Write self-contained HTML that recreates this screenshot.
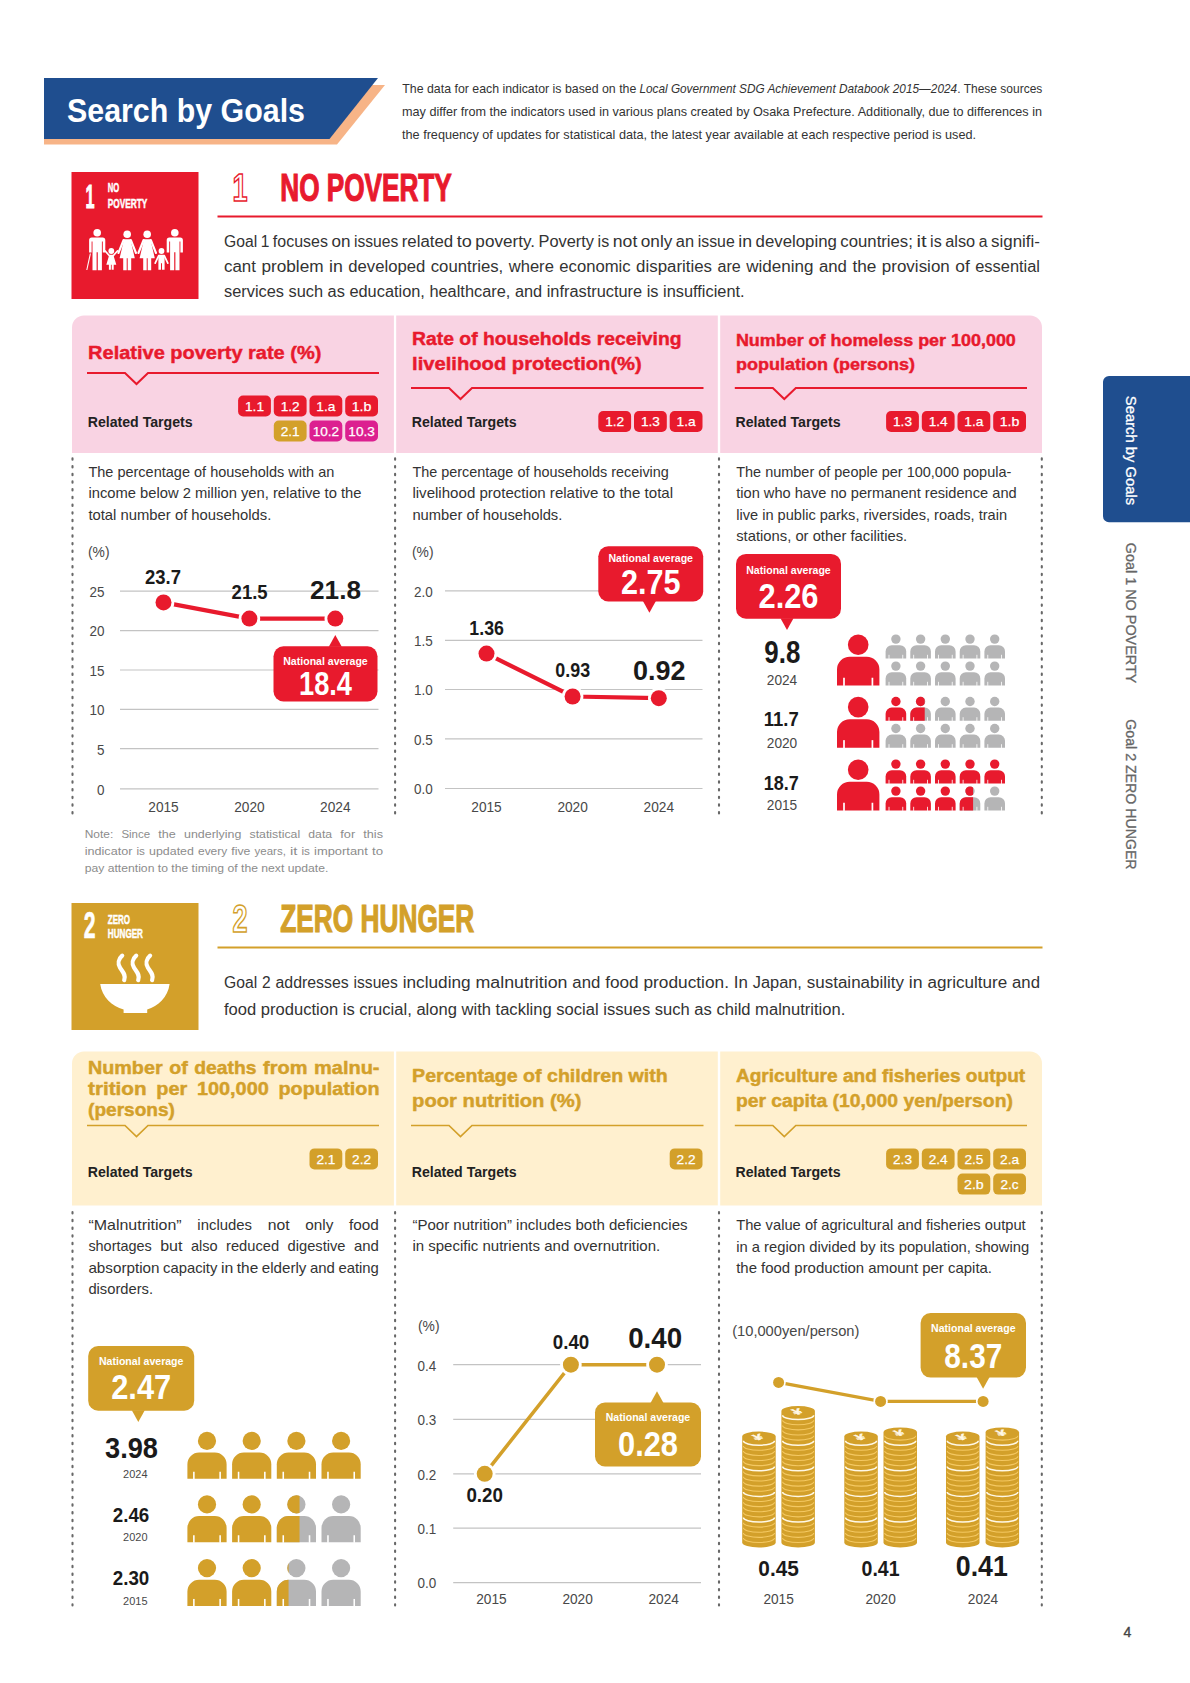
<!DOCTYPE html>
<html lang="en"><head><meta charset="utf-8"><title>Search by Goals</title>
<style>
html,body{margin:0;padding:0;background:#fff}
svg{display:block}
text{font-family:"Liberation Sans",sans-serif;white-space:pre}
</style></head><body>
<svg width="1190" height="1683" viewBox="0 0 1190 1683">
<rect width="1190" height="1683" fill="#fff"/>
<polygon points="44,85 385,85 337,144.5 44,144.5" fill="#f7b487"/>
<polygon points="44,78 378,78 329.5,139 44,139" fill="#1f4e8f"/>
<text x="67" y="122" font-size="33" fill="#fff" font-weight="700" textLength="238" lengthAdjust="spacingAndGlyphs">Search by Goals</text>
<text x="402.3" y="92.6" font-size="12.1" fill="#333" textLength="234" lengthAdjust="spacingAndGlyphs">The data for each indicator is based on the</text>
<text x="639.4" y="92.6" font-size="12.1" fill="#333" textLength="317.7" lengthAdjust="spacingAndGlyphs" font-style="italic">Local Government SDG Achievement Databook 2015—2024</text>
<text x="957.3" y="92.6" font-size="12.1" fill="#333" textLength="85" lengthAdjust="spacingAndGlyphs">. These sources</text>
<text x="402" y="116" font-size="12.1" fill="#333" textLength="640" lengthAdjust="spacingAndGlyphs">may differ from the indicators used in various plans created by Osaka Prefecture. Additionally, due to differences in</text>
<text x="402" y="139" font-size="12.1" fill="#333" textLength="574" lengthAdjust="spacingAndGlyphs">the frequency of updates for statistical data, the latest year available at each respective period is used.</text>
<rect x="71.5" y="172" width="127" height="127" fill="#e81a2d"/>
<text x="85.5" y="208" font-size="34" fill="#fff" font-weight="700" textLength="9" lengthAdjust="spacingAndGlyphs" stroke="#fff" stroke-width="1.1">1</text>
<text x="107.8" y="192.2" font-size="12.6" fill="#fff" font-weight="700" textLength="11.5" lengthAdjust="spacingAndGlyphs" stroke="#fff" stroke-width="0.5">NO</text>
<text x="107.8" y="207.5" font-size="12.6" fill="#fff" font-weight="700" textLength="39.5" lengthAdjust="spacingAndGlyphs" stroke="#fff" stroke-width="0.5">POVERTY</text>
<g fill="#fff"><circle cx="97.2" cy="232.8" r="3.8"/><path d="M91.8,237.6 h10.8 a2.7,2.7 0 0 1 2.7,2.7 v12.3 h-2.5 v-11 h-0.9 v28.7 h-4.1 v-18 h-1.2 v18 h-4.1 v-28.7 h-0.9 v11 h-2.5 v-12.3 a2.7,2.7 0 0 1 2.7,-2.7z"/><circle cx="174.8" cy="232.8" r="3.8"/><path d="M169.4,237.6 h10.8 a2.7,2.7 0 0 1 2.7,2.7 v12.3 h-2.5 v-11 h-0.9 v28.7 h-4.1 v-18 h-1.2 v18 h-4.1 v-28.7 h-0.9 v11 h-2.5 v-12.3 a2.7,2.7 0 0 1 2.7,-2.7z"/><circle cx="127.2" cy="234.20000000000002" r="3.8"/><path d="M124.0,239.20000000000002 h6.4 l4.4,19 h-3.6 v12 h-3.5 v-12 h-1 v12 h-3.5 v-12 h-3.6z"/><path d="M123.60000000000001,240.0 l-5.2,13" stroke="#fff" stroke-width="2.1" stroke-linecap="round" fill="none"/><path d="M130.8,240.0 l5.2,13" stroke="#fff" stroke-width="2.1" stroke-linecap="round" fill="none"/><circle cx="147.2" cy="234.20000000000002" r="3.8"/><path d="M144.0,239.20000000000002 h6.4 l4.4,19 h-3.6 v12 h-3.5 v-12 h-1 v12 h-3.5 v-12 h-3.6z"/><path d="M143.6,240.0 l-5.2,13" stroke="#fff" stroke-width="2.1" stroke-linecap="round" fill="none"/><path d="M150.79999999999998,240.0 l5.2,13" stroke="#fff" stroke-width="2.1" stroke-linecap="round" fill="none"/><path d="M90.4,253.5 L86.8,270" stroke="#fff" stroke-width="1.1" fill="none"/><circle cx="111.3" cy="251" r="2.9"/><path d="M109.3,254.8 h4 l3,9.9 h-2.6 v5 h-2 v-5 h-0.8 v5 h-2 v-5 h-2.6z"/><path d="M109.6,256 l-4.6,-5.2 M113,256 l4.6,-5.2" stroke="#fff" stroke-width="1.7" stroke-linecap="round" fill="none"/><circle cx="161.5" cy="251" r="2.9"/><path d="M158.4,254.8 h6.2 v14.9 h-2.6 v-6.4 h-1 v6.4 h-2.6z"/><path d="M158.6,255.8 l-3.4,7.4 M164.4,255.8 l3.4,7.4" stroke="#fff" stroke-width="1.7" stroke-linecap="round" fill="none"/></g>
<text x="232.5" y="200.5" font-size="38" font-weight="700" fill="#fff" stroke="#e81a2d" stroke-width="1.6" textLength="15" lengthAdjust="spacingAndGlyphs">1</text>
<text x="280.3" y="200.5" font-size="38" fill="#e81a2d" font-weight="700" textLength="171.5" lengthAdjust="spacingAndGlyphs" stroke="#e81a2d" stroke-width="1.2">NO POVERTY</text>
<rect x="217.5" y="215.5" width="825" height="2" fill="#e81a2d"/>
<text x="224" y="247" font-size="15.6" fill="#333" textLength="33.16" lengthAdjust="spacingAndGlyphs">Goal</text>
<text x="260.69" y="247" font-size="15.6" fill="#333" textLength="8.66" lengthAdjust="spacingAndGlyphs">1</text>
<text x="272.88" y="247" font-size="15.6" fill="#333" textLength="55.02" lengthAdjust="spacingAndGlyphs">focuses</text>
<text x="331.43" y="247" font-size="15.6" fill="#333" textLength="18.97" lengthAdjust="spacingAndGlyphs">on</text>
<text x="353.92" y="247" font-size="15.6" fill="#333" textLength="44.3" lengthAdjust="spacingAndGlyphs">issues</text>
<text x="401.75" y="247" font-size="15.6" fill="#333" textLength="51.46" lengthAdjust="spacingAndGlyphs">related</text>
<text x="456.75" y="247" font-size="15.6" fill="#333" textLength="15.1" lengthAdjust="spacingAndGlyphs">to</text>
<text x="475.38" y="247" font-size="15.6" fill="#333" textLength="59.58" lengthAdjust="spacingAndGlyphs">poverty.</text>
<text x="538.48" y="247" font-size="15.6" fill="#333" textLength="55.61" lengthAdjust="spacingAndGlyphs">Poverty</text>
<text x="597.62" y="247" font-size="15.6" fill="#333" textLength="11.59" lengthAdjust="spacingAndGlyphs">is</text>
<text x="612.74" y="247" font-size="15.6" fill="#333" textLength="24.56" lengthAdjust="spacingAndGlyphs">not</text>
<text x="640.82" y="247" font-size="15.6" fill="#333" textLength="31.53" lengthAdjust="spacingAndGlyphs">only</text>
<text x="675.88" y="247" font-size="15.6" fill="#333" textLength="18.3" lengthAdjust="spacingAndGlyphs">an</text>
<text x="697.71" y="247" font-size="15.6" fill="#333" textLength="37" lengthAdjust="spacingAndGlyphs">issue</text>
<text x="738.24" y="247" font-size="15.6" fill="#333" textLength="13.81" lengthAdjust="spacingAndGlyphs">in</text>
<text x="755.57" y="247" font-size="15.6" fill="#333" textLength="81.26" lengthAdjust="spacingAndGlyphs">developing</text>
<text x="840.36" y="247" font-size="15.6" fill="#333" textLength="72.52" lengthAdjust="spacingAndGlyphs">countries;</text>
<text x="916.41" y="247" font-size="15.6" fill="#333" textLength="10.17" lengthAdjust="spacingAndGlyphs">it</text>
<text x="930.11" y="247" font-size="15.6" fill="#333" textLength="11.59" lengthAdjust="spacingAndGlyphs">is</text>
<text x="945.23" y="247" font-size="15.6" fill="#333" textLength="29.97" lengthAdjust="spacingAndGlyphs">also</text>
<text x="978.72" y="247" font-size="15.6" fill="#333" textLength="8.78" lengthAdjust="spacingAndGlyphs">a</text>
<text x="991.03" y="247" font-size="15.6" fill="#333" textLength="48.97" lengthAdjust="spacingAndGlyphs">signifi-</text>
<text x="224" y="272" font-size="15.6" fill="#333" textLength="31.96" lengthAdjust="spacingAndGlyphs">cant</text>
<text x="261.42" y="272" font-size="15.6" fill="#333" textLength="62.16" lengthAdjust="spacingAndGlyphs">problem</text>
<text x="329.05" y="272" font-size="15.6" fill="#333" textLength="13.81" lengthAdjust="spacingAndGlyphs">in</text>
<text x="348.31" y="272" font-size="15.6" fill="#333" textLength="76.97" lengthAdjust="spacingAndGlyphs">developed</text>
<text x="430.74" y="272" font-size="15.6" fill="#333" textLength="72.52" lengthAdjust="spacingAndGlyphs">countries,</text>
<text x="508.72" y="272" font-size="15.6" fill="#333" textLength="45.15" lengthAdjust="spacingAndGlyphs">where</text>
<text x="559.33" y="272" font-size="15.6" fill="#333" textLength="71.34" lengthAdjust="spacingAndGlyphs">economic</text>
<text x="636.13" y="272" font-size="15.6" fill="#333" textLength="75.92" lengthAdjust="spacingAndGlyphs">disparities</text>
<text x="717.51" y="272" font-size="15.6" fill="#333" textLength="23.3" lengthAdjust="spacingAndGlyphs">are</text>
<text x="746.27" y="272" font-size="15.6" fill="#333" textLength="67.24" lengthAdjust="spacingAndGlyphs">widening</text>
<text x="818.97" y="272" font-size="15.6" fill="#333" textLength="27.97" lengthAdjust="spacingAndGlyphs">and</text>
<text x="852.4" y="272" font-size="15.6" fill="#333" textLength="23.99" lengthAdjust="spacingAndGlyphs">the</text>
<text x="881.85" y="272" font-size="15.6" fill="#333" textLength="67.92" lengthAdjust="spacingAndGlyphs">provision</text>
<text x="955.23" y="272" font-size="15.6" fill="#333" textLength="14.52" lengthAdjust="spacingAndGlyphs">of</text>
<text x="975.21" y="272" font-size="15.6" fill="#333" textLength="64.79" lengthAdjust="spacingAndGlyphs">essential</text>
<text x="224" y="297" font-size="15.6" fill="#333" textLength="520.56" lengthAdjust="spacingAndGlyphs">services such as education, healthcare, and infrastructure is insufficient.</text>
<rect x="71.5" y="903" width="127" height="127" fill="#d3a02a"/>
<text x="83.7" y="938.4" font-size="36" fill="#fff" font-weight="700" textLength="11.8" lengthAdjust="spacingAndGlyphs" stroke="#fff" stroke-width="0.7">2</text>
<text x="107.8" y="923.5" font-size="12.8" fill="#fff" font-weight="700" textLength="22.3" lengthAdjust="spacingAndGlyphs" stroke="#fff" stroke-width="0.5">ZERO</text>
<text x="107.8" y="938.2" font-size="12.8" fill="#fff" font-weight="700" textLength="35.2" lengthAdjust="spacingAndGlyphs" stroke="#fff" stroke-width="0.5">HUNGER</text>
<path d="M100.2,984 H169.6 C168,997 158,1006.5 147.2,1009.5 V1013 H123.6 V1009.5 C112,1006.5 102,997 100.2,984z" fill="#fff"/>
<path d="M122.2,955.6 c-3.7,3.1 -4.7,8.1 -2.2,12.1 c2.5,4 6.3,7.3 4.2,12.4" stroke="#fff" stroke-width="4.2" stroke-linecap="round" fill="none"/>
<path d="M136.20000000000002,955.6 c-3.7,3.1 -4.7,8.1 -2.2,12.1 c2.5,4 6.3,7.3 4.2,12.4" stroke="#fff" stroke-width="4.2" stroke-linecap="round" fill="none"/>
<path d="M150.1,955.6 c-3.7,3.1 -4.7,8.1 -2.2,12.1 c2.5,4 6.3,7.3 4.2,12.4" stroke="#fff" stroke-width="4.2" stroke-linecap="round" fill="none"/>
<text x="232.5" y="931.5" font-size="38" font-weight="700" fill="#fff" stroke="#d3a02a" stroke-width="1.6" textLength="15" lengthAdjust="spacingAndGlyphs">2</text>
<text x="280.3" y="931.5" font-size="38" fill="#d3a02a" font-weight="700" textLength="194" lengthAdjust="spacingAndGlyphs" stroke="#d3a02a" stroke-width="1.2">ZERO HUNGER</text>
<rect x="217.5" y="946.5" width="825" height="2" fill="#d3a02a"/>
<text x="224" y="987.9" font-size="15.6" fill="#333" textLength="33.16" lengthAdjust="spacingAndGlyphs">Goal</text>
<text x="262.02" y="987.9" font-size="15.6" fill="#333" textLength="8.66" lengthAdjust="spacingAndGlyphs">2</text>
<text x="275.52" y="987.9" font-size="15.6" fill="#333" textLength="73.19" lengthAdjust="spacingAndGlyphs">addresses</text>
<text x="353.57" y="987.9" font-size="15.6" fill="#333" textLength="44.3" lengthAdjust="spacingAndGlyphs">issues</text>
<text x="402.72" y="987.9" font-size="15.6" fill="#333" textLength="67.94" lengthAdjust="spacingAndGlyphs">including</text>
<text x="475.51" y="987.9" font-size="15.6" fill="#333" textLength="92.01" lengthAdjust="spacingAndGlyphs">malnutrition</text>
<text x="572.37" y="987.9" font-size="15.6" fill="#333" textLength="27.97" lengthAdjust="spacingAndGlyphs">and</text>
<text x="605.19" y="987.9" font-size="15.6" fill="#333" textLength="33.48" lengthAdjust="spacingAndGlyphs">food</text>
<text x="643.52" y="987.9" font-size="15.6" fill="#333" textLength="85.41" lengthAdjust="spacingAndGlyphs">production.</text>
<text x="733.78" y="987.9" font-size="15.6" fill="#333" textLength="14.09" lengthAdjust="spacingAndGlyphs">In</text>
<text x="752.72" y="987.9" font-size="15.6" fill="#333" textLength="49.19" lengthAdjust="spacingAndGlyphs">Japan,</text>
<text x="806.75" y="987.9" font-size="15.6" fill="#333" textLength="97.26" lengthAdjust="spacingAndGlyphs">sustainability</text>
<text x="908.87" y="987.9" font-size="15.6" fill="#333" textLength="13.81" lengthAdjust="spacingAndGlyphs">in</text>
<text x="927.53" y="987.9" font-size="15.6" fill="#333" textLength="79.65" lengthAdjust="spacingAndGlyphs">agriculture</text>
<text x="1012.03" y="987.9" font-size="15.6" fill="#333" textLength="27.97" lengthAdjust="spacingAndGlyphs">and</text>
<text x="224" y="1014.5" font-size="15.6" fill="#333" textLength="621.33" lengthAdjust="spacingAndGlyphs">food production is crucial, along with tackling social issues such as child malnutrition.</text>
<path d="M72,453 V327.5 a12,12 0 0 1 12,-12 H393.9 V453z" fill="#f9d3e3"/>
<rect x="396.2" y="315.5" width="321.6" height="137.5" fill="#f9d3e3"/>
<path d="M720.2,453 V315.5 H1030 a12,12 0 0 1 12,12 V453z" fill="#f9d3e3"/>
<text x="88.1" y="358.5" font-size="19.1" fill="#e81a2d" font-weight="700" textLength="233.29" lengthAdjust="spacingAndGlyphs" stroke="#e81a2d" stroke-width="0.45">Relative poverty rate (%)</text>
<path d="M87,373 H125 l11.5,11 l11.5,-11 H379" fill="none" stroke="#e81a2d" stroke-width="2" stroke-linejoin="miter"/>
<text x="412.1" y="345.3" font-size="19.1" fill="#e81a2d" font-weight="700" textLength="269.45" lengthAdjust="spacingAndGlyphs" stroke="#e81a2d" stroke-width="0.45">Rate of households receiving</text>
<text x="412.1" y="370.1" font-size="19.1" fill="#e81a2d" font-weight="700" textLength="229.68" lengthAdjust="spacingAndGlyphs" stroke="#e81a2d" stroke-width="0.45">livelihood protection(%)</text>
<path d="M411,388 H449 l11.5,11 l11.5,-11 H703.5" fill="none" stroke="#e81a2d" stroke-width="2" stroke-linejoin="miter"/>
<text x="735.9" y="345.5" font-size="17.35" fill="#e81a2d" font-weight="700" textLength="279.95" lengthAdjust="spacingAndGlyphs" stroke="#e81a2d" stroke-width="0.45">Number of homeless per 100,000</text>
<text x="735.9" y="370.3" font-size="17.35" fill="#e81a2d" font-weight="700" textLength="179.11" lengthAdjust="spacingAndGlyphs" stroke="#e81a2d" stroke-width="0.45">population (persons)</text>
<path d="M734.8,388 H772.8 l11.5,11 l11.5,-11 H1027" fill="none" stroke="#e81a2d" stroke-width="2" stroke-linejoin="miter"/>
<text x="87.7" y="426.6" font-size="14" fill="#222" font-weight="700" textLength="105" lengthAdjust="spacingAndGlyphs">Related Targets</text>
<text x="411.7" y="426.6" font-size="14" fill="#222" font-weight="700" textLength="105" lengthAdjust="spacingAndGlyphs">Related Targets</text>
<text x="735.5" y="426.6" font-size="14" fill="#222" font-weight="700" textLength="105" lengthAdjust="spacingAndGlyphs">Related Targets</text>
<rect x="238.1" y="395.5" width="32.8" height="21" rx="5" fill="#e81a2d"/>
<text x="245.01" y="410.7" font-size="13.2" fill="#fff" textLength="18.98" lengthAdjust="spacingAndGlyphs" stroke="#fff" stroke-width="0.25">1.1</text>
<rect x="273.8" y="395.5" width="32.8" height="21" rx="5" fill="#e81a2d"/>
<text x="280.71" y="410.7" font-size="13.2" fill="#fff" textLength="18.98" lengthAdjust="spacingAndGlyphs" stroke="#fff" stroke-width="0.25">1.2</text>
<rect x="309.5" y="395.5" width="32.8" height="21" rx="5" fill="#e81a2d"/>
<text x="316.38" y="410.7" font-size="13.2" fill="#fff" textLength="19.05" lengthAdjust="spacingAndGlyphs" stroke="#fff" stroke-width="0.25">1.a</text>
<rect x="345.2" y="395.5" width="32.8" height="21" rx="5" fill="#e81a2d"/>
<text x="351.72" y="410.7" font-size="13.2" fill="#fff" textLength="19.76" lengthAdjust="spacingAndGlyphs" stroke="#fff" stroke-width="0.25">1.b</text>
<rect x="273.8" y="420.5" width="32.8" height="21" rx="5" fill="#d3a02a"/>
<text x="280.71" y="435.7" font-size="13.2" fill="#fff" textLength="18.98" lengthAdjust="spacingAndGlyphs" stroke="#fff" stroke-width="0.25">2.1</text>
<rect x="309.5" y="420.5" width="32.8" height="21" rx="5" fill="#dc2090"/>
<text x="312.65" y="435.7" font-size="13.2" fill="#fff" textLength="26.51" lengthAdjust="spacingAndGlyphs" stroke="#fff" stroke-width="0.25">10.2</text>
<rect x="345.2" y="420.5" width="32.8" height="21" rx="5" fill="#dc2090"/>
<text x="348.35" y="435.7" font-size="13.2" fill="#fff" textLength="26.51" lengthAdjust="spacingAndGlyphs" stroke="#fff" stroke-width="0.25">10.3</text>
<rect x="598.3" y="411" width="32.8" height="21" rx="5" fill="#e81a2d"/>
<text x="605.21" y="426.2" font-size="13.2" fill="#fff" textLength="18.98" lengthAdjust="spacingAndGlyphs" stroke="#fff" stroke-width="0.25">1.2</text>
<rect x="634" y="411" width="32.8" height="21" rx="5" fill="#e81a2d"/>
<text x="640.91" y="426.2" font-size="13.2" fill="#fff" textLength="18.98" lengthAdjust="spacingAndGlyphs" stroke="#fff" stroke-width="0.25">1.3</text>
<rect x="669.7" y="411" width="32.8" height="21" rx="5" fill="#e81a2d"/>
<text x="676.58" y="426.2" font-size="13.2" fill="#fff" textLength="19.05" lengthAdjust="spacingAndGlyphs" stroke="#fff" stroke-width="0.25">1.a</text>
<rect x="886.1" y="411" width="32.8" height="21" rx="5" fill="#e81a2d"/>
<text x="893.01" y="426.2" font-size="13.2" fill="#fff" textLength="18.98" lengthAdjust="spacingAndGlyphs" stroke="#fff" stroke-width="0.25">1.3</text>
<rect x="921.8" y="411" width="32.8" height="21" rx="5" fill="#e81a2d"/>
<text x="928.71" y="426.2" font-size="13.2" fill="#fff" textLength="18.98" lengthAdjust="spacingAndGlyphs" stroke="#fff" stroke-width="0.25">1.4</text>
<rect x="957.5" y="411" width="32.8" height="21" rx="5" fill="#e81a2d"/>
<text x="964.38" y="426.2" font-size="13.2" fill="#fff" textLength="19.05" lengthAdjust="spacingAndGlyphs" stroke="#fff" stroke-width="0.25">1.a</text>
<rect x="993.2" y="411" width="32.8" height="21" rx="5" fill="#e81a2d"/>
<text x="999.72" y="426.2" font-size="13.2" fill="#fff" textLength="19.76" lengthAdjust="spacingAndGlyphs" stroke="#fff" stroke-width="0.25">1.b</text>
<line x1="72.5" y1="458.35" x2="72.5" y2="813.45" stroke="#686868" stroke-width="2.1" stroke-linecap="round" stroke-dasharray="1.4 6.29"/>
<line x1="395.1" y1="458.35" x2="395.1" y2="813.45" stroke="#686868" stroke-width="2.1" stroke-linecap="round" stroke-dasharray="1.4 6.29"/>
<line x1="719.0" y1="458.35" x2="719.0" y2="813.45" stroke="#686868" stroke-width="2.1" stroke-linecap="round" stroke-dasharray="1.4 6.29"/>
<line x1="1041.8" y1="458.35" x2="1041.8" y2="813.45" stroke="#686868" stroke-width="2.1" stroke-linecap="round" stroke-dasharray="1.4 6.29"/>
<text x="88.4" y="476.5" font-size="13.9" fill="#333" textLength="245.92" lengthAdjust="spacingAndGlyphs">The percentage of households with an</text>
<text x="88.4" y="498" font-size="13.9" fill="#333" textLength="273.15" lengthAdjust="spacingAndGlyphs">income below 2 million yen, relative to the</text>
<text x="88.4" y="519.5" font-size="13.9" fill="#333" textLength="182.92" lengthAdjust="spacingAndGlyphs">total number of households.</text>
<text x="412.4" y="476.5" font-size="13.9" fill="#333" textLength="256.45" lengthAdjust="spacingAndGlyphs">The percentage of households receiving</text>
<text x="412.4" y="498" font-size="13.9" fill="#333" textLength="260.71" lengthAdjust="spacingAndGlyphs">livelihood protection relative to the total</text>
<text x="412.4" y="519.5" font-size="13.9" fill="#333" textLength="149.94" lengthAdjust="spacingAndGlyphs">number of households.</text>
<text x="736.2" y="476.5" font-size="13.9" fill="#333" textLength="275.12" lengthAdjust="spacingAndGlyphs">The number of people per 100,000 popula-</text>
<text x="736.2" y="498" font-size="13.9" fill="#333" textLength="280.46" lengthAdjust="spacingAndGlyphs">tion who have no permanent residence and</text>
<text x="736.2" y="519.5" font-size="13.9" fill="#333" textLength="270.89" lengthAdjust="spacingAndGlyphs">live in public parks, riversides, roads, train</text>
<text x="736.2" y="541" font-size="13.9" fill="#333" textLength="170.99" lengthAdjust="spacingAndGlyphs">stations, or other facilities.</text>
<text x="88" y="557" font-size="14.2" fill="#484848" textLength="21.56" lengthAdjust="spacingAndGlyphs">(%)</text>
<line x1="120" y1="591.2" x2="378.5" y2="591.2" stroke="#c3c3c3" stroke-width="1.2"/>
<line x1="120" y1="630.6" x2="378.5" y2="630.6" stroke="#c3c3c3" stroke-width="1.2"/>
<line x1="120" y1="670" x2="378.5" y2="670" stroke="#c3c3c3" stroke-width="1.2"/>
<line x1="120" y1="709.3" x2="378.5" y2="709.3" stroke="#c3c3c3" stroke-width="1.2"/>
<line x1="120" y1="748.7" x2="378.5" y2="748.7" stroke="#c3c3c3" stroke-width="1.2"/>
<line x1="120" y1="788.8" x2="378.5" y2="788.8" stroke="#c3c3c3" stroke-width="1.2"/>
<text x="89.52" y="597" font-size="14.4" fill="#484848" textLength="14.98" lengthAdjust="spacingAndGlyphs">25</text>
<text x="89.52" y="636.4" font-size="14.4" fill="#484848" textLength="14.98" lengthAdjust="spacingAndGlyphs">20</text>
<text x="89.52" y="675.8" font-size="14.4" fill="#484848" textLength="14.98" lengthAdjust="spacingAndGlyphs">15</text>
<text x="89.52" y="715.1" font-size="14.4" fill="#484848" textLength="14.98" lengthAdjust="spacingAndGlyphs">10</text>
<text x="97.01" y="754.5" font-size="14.4" fill="#484848" textLength="7.49" lengthAdjust="spacingAndGlyphs">5</text>
<text x="97.01" y="794.6" font-size="14.4" fill="#484848" textLength="7.49" lengthAdjust="spacingAndGlyphs">0</text>
<path d="M163.5,602.4 L249.4,618.6 L335.3,618.6" fill="none" stroke="#e81a2d" stroke-width="4.2"/>
<circle cx="163.5" cy="602.4" r="8" fill="#e81a2d" stroke="#fff" stroke-width="5.6" paint-order="stroke"/>
<circle cx="249.4" cy="618.6" r="8" fill="#e81a2d" stroke="#fff" stroke-width="5.6" paint-order="stroke"/>
<circle cx="335.3" cy="618.6" r="8" fill="#e81a2d" stroke="#fff" stroke-width="5.6" paint-order="stroke"/>
<text x="148.29" y="811.5" font-size="14.2" fill="#484848" textLength="30.41" lengthAdjust="spacingAndGlyphs">2015</text>
<text x="234.19" y="811.5" font-size="14.2" fill="#484848" textLength="30.41" lengthAdjust="spacingAndGlyphs">2020</text>
<text x="320.09" y="811.5" font-size="14.2" fill="#484848" textLength="30.41" lengthAdjust="spacingAndGlyphs">2024</text>
<text x="145" y="583.5" font-size="19.4" fill="#1a1a1a" font-weight="700" textLength="36" lengthAdjust="spacingAndGlyphs">23.7</text>
<text x="231.6" y="599.3" font-size="19.4" fill="#1a1a1a" font-weight="700" textLength="36" lengthAdjust="spacingAndGlyphs">21.5</text>
<text x="310" y="599" font-size="26.3" fill="#1a1a1a" font-weight="700" textLength="51" lengthAdjust="spacingAndGlyphs">21.8</text>
<rect x="273.5" y="646.3" width="104" height="55.2" rx="10" fill="#e81a2d"/>
<path d="M328.8,646.8 L335.3,635.1 L341.8,646.8z" fill="#e81a2d"/>
<text x="283.25" y="665" font-size="10.6" fill="#fff" font-weight="700" textLength="84.5" lengthAdjust="spacingAndGlyphs">National average</text>
<text x="299" y="695.1" font-size="32.8" fill="#fff" font-weight="700" textLength="53" lengthAdjust="spacingAndGlyphs">18.4</text>
<text x="84.7" y="837.5" font-size="11.4" fill="#8c8c8c" textLength="28.55" lengthAdjust="spacingAndGlyphs">Note:</text>
<text x="121.4" y="837.5" font-size="11.4" fill="#8c8c8c" textLength="28.74" lengthAdjust="spacingAndGlyphs">Since</text>
<text x="158.3" y="837.5" font-size="11.4" fill="#8c8c8c" textLength="17.53" lengthAdjust="spacingAndGlyphs">the</text>
<text x="183.99" y="837.5" font-size="11.4" fill="#8c8c8c" textLength="57.38" lengthAdjust="spacingAndGlyphs">underlying</text>
<text x="249.52" y="837.5" font-size="11.4" fill="#8c8c8c" textLength="50.65" lengthAdjust="spacingAndGlyphs">statistical</text>
<text x="308.33" y="837.5" font-size="11.4" fill="#8c8c8c" textLength="23.76" lengthAdjust="spacingAndGlyphs">data</text>
<text x="340.24" y="837.5" font-size="11.4" fill="#8c8c8c" textLength="14.91" lengthAdjust="spacingAndGlyphs">for</text>
<text x="363.31" y="837.5" font-size="11.4" fill="#8c8c8c" textLength="19.69" lengthAdjust="spacingAndGlyphs">this</text>
<text x="84.7" y="854.6" font-size="11.4" fill="#8c8c8c" textLength="47.69" lengthAdjust="spacingAndGlyphs">indicator</text>
<text x="136.49" y="854.6" font-size="11.4" fill="#8c8c8c" textLength="8.47" lengthAdjust="spacingAndGlyphs">is</text>
<text x="149.07" y="854.6" font-size="11.4" fill="#8c8c8c" textLength="44.81" lengthAdjust="spacingAndGlyphs">updated</text>
<text x="197.99" y="854.6" font-size="11.4" fill="#8c8c8c" textLength="29.27" lengthAdjust="spacingAndGlyphs">every</text>
<text x="231.37" y="854.6" font-size="11.4" fill="#8c8c8c" textLength="19.05" lengthAdjust="spacingAndGlyphs">five</text>
<text x="254.52" y="854.6" font-size="11.4" fill="#8c8c8c" textLength="31.33" lengthAdjust="spacingAndGlyphs">years,</text>
<text x="289.96" y="854.6" font-size="11.4" fill="#8c8c8c" textLength="7.43" lengthAdjust="spacingAndGlyphs">it</text>
<text x="301.5" y="854.6" font-size="11.4" fill="#8c8c8c" textLength="8.47" lengthAdjust="spacingAndGlyphs">is</text>
<text x="314.07" y="854.6" font-size="11.4" fill="#8c8c8c" textLength="53.79" lengthAdjust="spacingAndGlyphs">important</text>
<text x="371.96" y="854.6" font-size="11.4" fill="#8c8c8c" textLength="11.04" lengthAdjust="spacingAndGlyphs">to</text>
<text x="84.7" y="872" font-size="11.4" fill="#8c8c8c" textLength="243.64" lengthAdjust="spacingAndGlyphs">pay attention to the timing of the next update.</text>
<text x="412" y="557" font-size="14.2" fill="#484848" textLength="21.56" lengthAdjust="spacingAndGlyphs">(%)</text>
<line x1="445" y1="590.9" x2="702.5" y2="590.9" stroke="#c3c3c3" stroke-width="1.2"/>
<line x1="445" y1="640.3" x2="702.5" y2="640.3" stroke="#c3c3c3" stroke-width="1.2"/>
<line x1="445" y1="689.5" x2="702.5" y2="689.5" stroke="#c3c3c3" stroke-width="1.2"/>
<line x1="445" y1="738.9" x2="702.5" y2="738.9" stroke="#c3c3c3" stroke-width="1.2"/>
<line x1="445" y1="788.5" x2="702.5" y2="788.5" stroke="#c3c3c3" stroke-width="1.2"/>
<text x="414" y="596.7" font-size="14.4" fill="#484848" textLength="18.74" lengthAdjust="spacingAndGlyphs">2.0</text>
<text x="414" y="646.1" font-size="14.4" fill="#484848" textLength="18.74" lengthAdjust="spacingAndGlyphs">1.5</text>
<text x="414" y="695.3" font-size="14.4" fill="#484848" textLength="18.74" lengthAdjust="spacingAndGlyphs">1.0</text>
<text x="414" y="744.7" font-size="14.4" fill="#484848" textLength="18.74" lengthAdjust="spacingAndGlyphs">0.5</text>
<text x="414" y="794.3" font-size="14.4" fill="#484848" textLength="18.74" lengthAdjust="spacingAndGlyphs">0.0</text>
<path d="M486.5,653.6 L572.6,696.5 L658.8,698.2" fill="none" stroke="#e81a2d" stroke-width="4.2"/>
<circle cx="486.5" cy="653.6" r="8" fill="#e81a2d" stroke="#fff" stroke-width="5.6" paint-order="stroke"/>
<circle cx="572.6" cy="696.5" r="8" fill="#e81a2d" stroke="#fff" stroke-width="5.6" paint-order="stroke"/>
<circle cx="658.8" cy="698.2" r="8" fill="#e81a2d" stroke="#fff" stroke-width="5.6" paint-order="stroke"/>
<text x="471.29" y="811.5" font-size="14.2" fill="#484848" textLength="30.41" lengthAdjust="spacingAndGlyphs">2015</text>
<text x="557.39" y="811.5" font-size="14.2" fill="#484848" textLength="30.41" lengthAdjust="spacingAndGlyphs">2020</text>
<text x="643.59" y="811.5" font-size="14.2" fill="#484848" textLength="30.41" lengthAdjust="spacingAndGlyphs">2024</text>
<text x="469.35" y="634.5" font-size="19.3" fill="#1a1a1a" font-weight="700" textLength="34.5" lengthAdjust="spacingAndGlyphs">1.36</text>
<text x="555.3" y="676.6" font-size="19.3" fill="#1a1a1a" font-weight="700" textLength="34.8" lengthAdjust="spacingAndGlyphs">0.93</text>
<text x="633.05" y="679.5" font-size="28" fill="#1a1a1a" font-weight="700" textLength="52.5" lengthAdjust="spacingAndGlyphs">0.92</text>
<rect x="598.3" y="546.3" width="104.9" height="55.2" rx="10" fill="#e81a2d"/>
<path d="M642.9,601 L649.4,612.7 L655.9,601z" fill="#e81a2d"/>
<text x="608.5" y="561.9" font-size="10.6" fill="#fff" font-weight="700" textLength="84.5" lengthAdjust="spacingAndGlyphs">National average</text>
<text x="621" y="593.9" font-size="35.5" fill="#fff" font-weight="700" textLength="59.5" lengthAdjust="spacingAndGlyphs">2.75</text>
<rect x="736" y="553.9" width="105" height="64.8" rx="10" fill="#e81a2d"/>
<path d="M780.5,618.2 L787,629.9 L793.5,618.2z" fill="#e81a2d"/>
<text x="746.25" y="574.1" font-size="10.6" fill="#fff" font-weight="700" textLength="84.5" lengthAdjust="spacingAndGlyphs">National average</text>
<text x="758.5" y="608.1" font-size="35.5" fill="#fff" font-weight="700" textLength="60" lengthAdjust="spacingAndGlyphs">2.26</text>
<text x="764.3" y="663.2" font-size="31" fill="#1a1a1a" font-weight="700" textLength="36" lengthAdjust="spacingAndGlyphs">9.8</text>
<text x="766.79" y="685.2" font-size="14.2" fill="#484848" textLength="30.41" lengthAdjust="spacingAndGlyphs">2024</text>
<g fill="#e81a2d"><circle cx="858.2" cy="644.7" r="10.3"/><path d="M837,685.4 V669.52 a12.72,12.72 0 0 1 12.72,-12.72 H866.68 a12.72,12.72 0 0 1 12.72,12.72 V685.4z"/></g><rect x="843.15" y="677.75" width="1.7" height="8.15" fill="#fff"/><rect x="871.56" y="677.75" width="1.7" height="8.15" fill="#fff"/>
<g fill="#b5b5b6"><circle cx="895.9" cy="639.1" r="4.7"/><path d="M885.6,658.4 V651.38 a6.18,6.18 0 0 1 6.18,-6.18 H900.02 a6.18,6.18 0 0 1 6.18,6.18 V658.4z"/></g><rect x="888.59" y="654.8" width="0.82" height="4.1" fill="#fff"/><rect x="902.39" y="654.8" width="0.82" height="4.1" fill="#fff"/>
<g fill="#b5b5b6"><circle cx="920.6" cy="639.1" r="4.7"/><path d="M910.3,658.4 V651.38 a6.18,6.18 0 0 1 6.18,-6.18 H924.72 a6.18,6.18 0 0 1 6.18,6.18 V658.4z"/></g><rect x="913.29" y="654.8" width="0.82" height="4.1" fill="#fff"/><rect x="927.09" y="654.8" width="0.82" height="4.1" fill="#fff"/>
<g fill="#b5b5b6"><circle cx="945.3" cy="639.1" r="4.7"/><path d="M935,658.4 V651.38 a6.18,6.18 0 0 1 6.18,-6.18 H949.42 a6.18,6.18 0 0 1 6.18,6.18 V658.4z"/></g><rect x="937.99" y="654.8" width="0.82" height="4.1" fill="#fff"/><rect x="951.79" y="654.8" width="0.82" height="4.1" fill="#fff"/>
<g fill="#b5b5b6"><circle cx="970" cy="639.1" r="4.7"/><path d="M959.7,658.4 V651.38 a6.18,6.18 0 0 1 6.18,-6.18 H974.12 a6.18,6.18 0 0 1 6.18,6.18 V658.4z"/></g><rect x="962.69" y="654.8" width="0.82" height="4.1" fill="#fff"/><rect x="976.49" y="654.8" width="0.82" height="4.1" fill="#fff"/>
<g fill="#b5b5b6"><circle cx="994.7" cy="639.1" r="4.7"/><path d="M984.4,658.4 V651.38 a6.18,6.18 0 0 1 6.18,-6.18 H998.82 a6.18,6.18 0 0 1 6.18,6.18 V658.4z"/></g><rect x="987.39" y="654.8" width="0.82" height="4.1" fill="#fff"/><rect x="1001.19" y="654.8" width="0.82" height="4.1" fill="#fff"/>
<g fill="#b5b5b6"><circle cx="895.9" cy="666.1" r="4.7"/><path d="M885.6,685.4 V678.38 a6.18,6.18 0 0 1 6.18,-6.18 H900.02 a6.18,6.18 0 0 1 6.18,6.18 V685.4z"/></g><rect x="888.59" y="681.8" width="0.82" height="4.1" fill="#fff"/><rect x="902.39" y="681.8" width="0.82" height="4.1" fill="#fff"/>
<g fill="#b5b5b6"><circle cx="920.6" cy="666.1" r="4.7"/><path d="M910.3,685.4 V678.38 a6.18,6.18 0 0 1 6.18,-6.18 H924.72 a6.18,6.18 0 0 1 6.18,6.18 V685.4z"/></g><rect x="913.29" y="681.8" width="0.82" height="4.1" fill="#fff"/><rect x="927.09" y="681.8" width="0.82" height="4.1" fill="#fff"/>
<g fill="#b5b5b6"><circle cx="945.3" cy="666.1" r="4.7"/><path d="M935,685.4 V678.38 a6.18,6.18 0 0 1 6.18,-6.18 H949.42 a6.18,6.18 0 0 1 6.18,6.18 V685.4z"/></g><rect x="937.99" y="681.8" width="0.82" height="4.1" fill="#fff"/><rect x="951.79" y="681.8" width="0.82" height="4.1" fill="#fff"/>
<g fill="#b5b5b6"><circle cx="970" cy="666.1" r="4.7"/><path d="M959.7,685.4 V678.38 a6.18,6.18 0 0 1 6.18,-6.18 H974.12 a6.18,6.18 0 0 1 6.18,6.18 V685.4z"/></g><rect x="962.69" y="681.8" width="0.82" height="4.1" fill="#fff"/><rect x="976.49" y="681.8" width="0.82" height="4.1" fill="#fff"/>
<g fill="#b5b5b6"><circle cx="994.7" cy="666.1" r="4.7"/><path d="M984.4,685.4 V678.38 a6.18,6.18 0 0 1 6.18,-6.18 H998.82 a6.18,6.18 0 0 1 6.18,6.18 V685.4z"/></g><rect x="987.39" y="681.8" width="0.82" height="4.1" fill="#fff"/><rect x="1001.19" y="681.8" width="0.82" height="4.1" fill="#fff"/>
<text x="763.8" y="726.2" font-size="19.3" fill="#1a1a1a" font-weight="700" textLength="35" lengthAdjust="spacingAndGlyphs">11.7</text>
<text x="766.79" y="747.6" font-size="14.2" fill="#484848" textLength="30.41" lengthAdjust="spacingAndGlyphs">2020</text>
<g fill="#e81a2d"><circle cx="858.2" cy="707.1" r="10.3"/><path d="M837,747.8 V731.92 a12.72,12.72 0 0 1 12.72,-12.72 H866.68 a12.72,12.72 0 0 1 12.72,12.72 V747.8z"/></g><rect x="843.15" y="740.15" width="1.7" height="8.15" fill="#fff"/><rect x="871.56" y="740.15" width="1.7" height="8.15" fill="#fff"/>
<g fill="#e81a2d"><circle cx="895.9" cy="701.5" r="4.7"/><path d="M885.6,720.8 V713.78 a6.18,6.18 0 0 1 6.18,-6.18 H900.02 a6.18,6.18 0 0 1 6.18,6.18 V720.8z"/></g><rect x="888.59" y="717.2" width="0.82" height="4.1" fill="#fff"/><rect x="902.39" y="717.2" width="0.82" height="4.1" fill="#fff"/>
<clipPath id="c1"><rect x="909.3" y="695.8" width="15.42" height="26"/></clipPath>
<g fill="#b5b5b6"><circle cx="920.6" cy="701.5" r="4.7"/><path d="M910.3,720.8 V713.78 a6.18,6.18 0 0 1 6.18,-6.18 H924.72 a6.18,6.18 0 0 1 6.18,6.18 V720.8z"/></g><g fill="#e81a2d" clip-path="url(#c1)"><circle cx="920.6" cy="701.5" r="4.7"/><path d="M910.3,720.8 V713.78 a6.18,6.18 0 0 1 6.18,-6.18 H924.72 a6.18,6.18 0 0 1 6.18,6.18 V720.8z"/></g><rect x="913.29" y="717.2" width="0.82" height="4.1" fill="#fff"/><rect x="927.09" y="717.2" width="0.82" height="4.1" fill="#fff"/>
<g fill="#b5b5b6"><circle cx="945.3" cy="701.5" r="4.7"/><path d="M935,720.8 V713.78 a6.18,6.18 0 0 1 6.18,-6.18 H949.42 a6.18,6.18 0 0 1 6.18,6.18 V720.8z"/></g><rect x="937.99" y="717.2" width="0.82" height="4.1" fill="#fff"/><rect x="951.79" y="717.2" width="0.82" height="4.1" fill="#fff"/>
<g fill="#b5b5b6"><circle cx="970" cy="701.5" r="4.7"/><path d="M959.7,720.8 V713.78 a6.18,6.18 0 0 1 6.18,-6.18 H974.12 a6.18,6.18 0 0 1 6.18,6.18 V720.8z"/></g><rect x="962.69" y="717.2" width="0.82" height="4.1" fill="#fff"/><rect x="976.49" y="717.2" width="0.82" height="4.1" fill="#fff"/>
<g fill="#b5b5b6"><circle cx="994.7" cy="701.5" r="4.7"/><path d="M984.4,720.8 V713.78 a6.18,6.18 0 0 1 6.18,-6.18 H998.82 a6.18,6.18 0 0 1 6.18,6.18 V720.8z"/></g><rect x="987.39" y="717.2" width="0.82" height="4.1" fill="#fff"/><rect x="1001.19" y="717.2" width="0.82" height="4.1" fill="#fff"/>
<g fill="#b5b5b6"><circle cx="895.9" cy="728.5" r="4.7"/><path d="M885.6,747.8 V740.78 a6.18,6.18 0 0 1 6.18,-6.18 H900.02 a6.18,6.18 0 0 1 6.18,6.18 V747.8z"/></g><rect x="888.59" y="744.2" width="0.82" height="4.1" fill="#fff"/><rect x="902.39" y="744.2" width="0.82" height="4.1" fill="#fff"/>
<g fill="#b5b5b6"><circle cx="920.6" cy="728.5" r="4.7"/><path d="M910.3,747.8 V740.78 a6.18,6.18 0 0 1 6.18,-6.18 H924.72 a6.18,6.18 0 0 1 6.18,6.18 V747.8z"/></g><rect x="913.29" y="744.2" width="0.82" height="4.1" fill="#fff"/><rect x="927.09" y="744.2" width="0.82" height="4.1" fill="#fff"/>
<g fill="#b5b5b6"><circle cx="945.3" cy="728.5" r="4.7"/><path d="M935,747.8 V740.78 a6.18,6.18 0 0 1 6.18,-6.18 H949.42 a6.18,6.18 0 0 1 6.18,6.18 V747.8z"/></g><rect x="937.99" y="744.2" width="0.82" height="4.1" fill="#fff"/><rect x="951.79" y="744.2" width="0.82" height="4.1" fill="#fff"/>
<g fill="#b5b5b6"><circle cx="970" cy="728.5" r="4.7"/><path d="M959.7,747.8 V740.78 a6.18,6.18 0 0 1 6.18,-6.18 H974.12 a6.18,6.18 0 0 1 6.18,6.18 V747.8z"/></g><rect x="962.69" y="744.2" width="0.82" height="4.1" fill="#fff"/><rect x="976.49" y="744.2" width="0.82" height="4.1" fill="#fff"/>
<g fill="#b5b5b6"><circle cx="994.7" cy="728.5" r="4.7"/><path d="M984.4,747.8 V740.78 a6.18,6.18 0 0 1 6.18,-6.18 H998.82 a6.18,6.18 0 0 1 6.18,6.18 V747.8z"/></g><rect x="987.39" y="744.2" width="0.82" height="4.1" fill="#fff"/><rect x="1001.19" y="744.2" width="0.82" height="4.1" fill="#fff"/>
<text x="763.8" y="790.1" font-size="19.3" fill="#1a1a1a" font-weight="700" textLength="35" lengthAdjust="spacingAndGlyphs">18.7</text>
<text x="766.79" y="810.2" font-size="14.2" fill="#484848" textLength="30.41" lengthAdjust="spacingAndGlyphs">2015</text>
<g fill="#e81a2d"><circle cx="858.2" cy="769.7" r="10.3"/><path d="M837,810.4 V794.52 a12.72,12.72 0 0 1 12.72,-12.72 H866.68 a12.72,12.72 0 0 1 12.72,12.72 V810.4z"/></g><rect x="843.15" y="802.75" width="1.7" height="8.15" fill="#fff"/><rect x="871.56" y="802.75" width="1.7" height="8.15" fill="#fff"/>
<g fill="#e81a2d"><circle cx="895.9" cy="764.1" r="4.7"/><path d="M885.6,783.4 V776.38 a6.18,6.18 0 0 1 6.18,-6.18 H900.02 a6.18,6.18 0 0 1 6.18,6.18 V783.4z"/></g><rect x="888.59" y="779.8" width="0.82" height="4.1" fill="#fff"/><rect x="902.39" y="779.8" width="0.82" height="4.1" fill="#fff"/>
<g fill="#e81a2d"><circle cx="920.6" cy="764.1" r="4.7"/><path d="M910.3,783.4 V776.38 a6.18,6.18 0 0 1 6.18,-6.18 H924.72 a6.18,6.18 0 0 1 6.18,6.18 V783.4z"/></g><rect x="913.29" y="779.8" width="0.82" height="4.1" fill="#fff"/><rect x="927.09" y="779.8" width="0.82" height="4.1" fill="#fff"/>
<g fill="#e81a2d"><circle cx="945.3" cy="764.1" r="4.7"/><path d="M935,783.4 V776.38 a6.18,6.18 0 0 1 6.18,-6.18 H949.42 a6.18,6.18 0 0 1 6.18,6.18 V783.4z"/></g><rect x="937.99" y="779.8" width="0.82" height="4.1" fill="#fff"/><rect x="951.79" y="779.8" width="0.82" height="4.1" fill="#fff"/>
<g fill="#e81a2d"><circle cx="970" cy="764.1" r="4.7"/><path d="M959.7,783.4 V776.38 a6.18,6.18 0 0 1 6.18,-6.18 H974.12 a6.18,6.18 0 0 1 6.18,6.18 V783.4z"/></g><rect x="962.69" y="779.8" width="0.82" height="4.1" fill="#fff"/><rect x="976.49" y="779.8" width="0.82" height="4.1" fill="#fff"/>
<g fill="#e81a2d"><circle cx="994.7" cy="764.1" r="4.7"/><path d="M984.4,783.4 V776.38 a6.18,6.18 0 0 1 6.18,-6.18 H998.82 a6.18,6.18 0 0 1 6.18,6.18 V783.4z"/></g><rect x="987.39" y="779.8" width="0.82" height="4.1" fill="#fff"/><rect x="1001.19" y="779.8" width="0.82" height="4.1" fill="#fff"/>
<g fill="#e81a2d"><circle cx="895.9" cy="791.1" r="4.7"/><path d="M885.6,810.4 V803.38 a6.18,6.18 0 0 1 6.18,-6.18 H900.02 a6.18,6.18 0 0 1 6.18,6.18 V810.4z"/></g><rect x="888.59" y="806.8" width="0.82" height="4.1" fill="#fff"/><rect x="902.39" y="806.8" width="0.82" height="4.1" fill="#fff"/>
<g fill="#e81a2d"><circle cx="920.6" cy="791.1" r="4.7"/><path d="M910.3,810.4 V803.38 a6.18,6.18 0 0 1 6.18,-6.18 H924.72 a6.18,6.18 0 0 1 6.18,6.18 V810.4z"/></g><rect x="913.29" y="806.8" width="0.82" height="4.1" fill="#fff"/><rect x="927.09" y="806.8" width="0.82" height="4.1" fill="#fff"/>
<g fill="#e81a2d"><circle cx="945.3" cy="791.1" r="4.7"/><path d="M935,810.4 V803.38 a6.18,6.18 0 0 1 6.18,-6.18 H949.42 a6.18,6.18 0 0 1 6.18,6.18 V810.4z"/></g><rect x="937.99" y="806.8" width="0.82" height="4.1" fill="#fff"/><rect x="951.79" y="806.8" width="0.82" height="4.1" fill="#fff"/>
<clipPath id="c2"><rect x="958.7" y="785.4" width="14.39" height="26"/></clipPath>
<g fill="#b5b5b6"><circle cx="970" cy="791.1" r="4.7"/><path d="M959.7,810.4 V803.38 a6.18,6.18 0 0 1 6.18,-6.18 H974.12 a6.18,6.18 0 0 1 6.18,6.18 V810.4z"/></g><g fill="#e81a2d" clip-path="url(#c2)"><circle cx="970" cy="791.1" r="4.7"/><path d="M959.7,810.4 V803.38 a6.18,6.18 0 0 1 6.18,-6.18 H974.12 a6.18,6.18 0 0 1 6.18,6.18 V810.4z"/></g><rect x="962.69" y="806.8" width="0.82" height="4.1" fill="#fff"/><rect x="976.49" y="806.8" width="0.82" height="4.1" fill="#fff"/>
<g fill="#b5b5b6"><circle cx="994.7" cy="791.1" r="4.7"/><path d="M984.4,810.4 V803.38 a6.18,6.18 0 0 1 6.18,-6.18 H998.82 a6.18,6.18 0 0 1 6.18,6.18 V810.4z"/></g><rect x="987.39" y="806.8" width="0.82" height="4.1" fill="#fff"/><rect x="1001.19" y="806.8" width="0.82" height="4.1" fill="#fff"/>
<path d="M72,1205.4 V1063.5 a12,12 0 0 1 12,-12 H393.9 V1205.4z" fill="#fff0cf"/>
<rect x="396.2" y="1051.5" width="321.6" height="153.9" fill="#fff0cf"/>
<path d="M720.2,1205.4 V1051.5 H1030 a12,12 0 0 1 12,12 V1205.4z" fill="#fff0cf"/>
<text x="88" y="1073.8" font-size="18.6" fill="#d3a02a" font-weight="700" textLength="74.6" lengthAdjust="spacingAndGlyphs" stroke="#d3a02a" stroke-width="0.45">Number</text>
<text x="169.23" y="1073.8" font-size="18.6" fill="#d3a02a" font-weight="700" textLength="18.47" lengthAdjust="spacingAndGlyphs" stroke="#d3a02a" stroke-width="0.45">of</text>
<text x="194.33" y="1073.8" font-size="18.6" fill="#d3a02a" font-weight="700" textLength="62.11" lengthAdjust="spacingAndGlyphs" stroke="#d3a02a" stroke-width="0.45">deaths</text>
<text x="263.06" y="1073.8" font-size="18.6" fill="#d3a02a" font-weight="700" textLength="44.38" lengthAdjust="spacingAndGlyphs" stroke="#d3a02a" stroke-width="0.45">from</text>
<text x="314.06" y="1073.8" font-size="18.6" fill="#d3a02a" font-weight="700" textLength="65.44" lengthAdjust="spacingAndGlyphs" stroke="#d3a02a" stroke-width="0.45">malnu-</text>
<text x="88" y="1094.8" font-size="18.6" fill="#d3a02a" font-weight="700" textLength="58.65" lengthAdjust="spacingAndGlyphs" stroke="#d3a02a" stroke-width="0.45">trition</text>
<text x="156.34" y="1094.8" font-size="18.6" fill="#d3a02a" font-weight="700" textLength="30.89" lengthAdjust="spacingAndGlyphs" stroke="#d3a02a" stroke-width="0.45">per</text>
<text x="196.92" y="1094.8" font-size="18.6" fill="#d3a02a" font-weight="700" textLength="71.89" lengthAdjust="spacingAndGlyphs" stroke="#d3a02a" stroke-width="0.45">100,000</text>
<text x="278.5" y="1094.8" font-size="18.6" fill="#d3a02a" font-weight="700" textLength="101" lengthAdjust="spacingAndGlyphs" stroke="#d3a02a" stroke-width="0.45">population</text>
<text x="88.1" y="1116.2" font-size="18.6" fill="#d3a02a" font-weight="700" textLength="86.79" lengthAdjust="spacingAndGlyphs" stroke="#d3a02a" stroke-width="0.45">(persons)</text>
<text x="412.1" y="1081.6" font-size="18.95" fill="#d3a02a" font-weight="700" textLength="255.68" lengthAdjust="spacingAndGlyphs" stroke="#d3a02a" stroke-width="0.45">Percentage of children with</text>
<text x="412.1" y="1106.8" font-size="18.95" fill="#d3a02a" font-weight="700" textLength="169.34" lengthAdjust="spacingAndGlyphs" stroke="#d3a02a" stroke-width="0.45">poor nutrition (%)</text>
<text x="735.9" y="1081.6" font-size="18.46" fill="#d3a02a" font-weight="700" textLength="289.28" lengthAdjust="spacingAndGlyphs" stroke="#d3a02a" stroke-width="0.45">Agriculture and fisheries output</text>
<text x="735.9" y="1106.8" font-size="18.46" fill="#d3a02a" font-weight="700" textLength="277.02" lengthAdjust="spacingAndGlyphs" stroke="#d3a02a" stroke-width="0.45">per capita (10,000 yen/person)</text>
<path d="M87,1125.5 H125 l11.5,11 l11.5,-11 H379" fill="none" stroke="#d3a02a" stroke-width="1.7" stroke-linejoin="miter"/>
<path d="M411,1125.5 H449 l11.5,11 l11.5,-11 H703.5" fill="none" stroke="#d3a02a" stroke-width="1.7" stroke-linejoin="miter"/>
<path d="M734.8,1125.5 H772.8 l11.5,11 l11.5,-11 H1027" fill="none" stroke="#d3a02a" stroke-width="1.7" stroke-linejoin="miter"/>
<text x="87.7" y="1177.3" font-size="14" fill="#222" font-weight="700" textLength="105" lengthAdjust="spacingAndGlyphs">Related Targets</text>
<text x="411.7" y="1177.3" font-size="14" fill="#222" font-weight="700" textLength="105" lengthAdjust="spacingAndGlyphs">Related Targets</text>
<text x="735.5" y="1177.3" font-size="14" fill="#222" font-weight="700" textLength="105" lengthAdjust="spacingAndGlyphs">Related Targets</text>
<rect x="309.5" y="1148.4" width="32.8" height="21" rx="5" fill="#d3a02a"/>
<text x="316.41" y="1163.6" font-size="13.2" fill="#fff" textLength="18.98" lengthAdjust="spacingAndGlyphs" stroke="#fff" stroke-width="0.25">2.1</text>
<rect x="345.2" y="1148.4" width="32.8" height="21" rx="5" fill="#d3a02a"/>
<text x="352.11" y="1163.6" font-size="13.2" fill="#fff" textLength="18.98" lengthAdjust="spacingAndGlyphs" stroke="#fff" stroke-width="0.25">2.2</text>
<rect x="669.7" y="1148.4" width="32.8" height="21" rx="5" fill="#d3a02a"/>
<text x="676.61" y="1163.6" font-size="13.2" fill="#fff" textLength="18.98" lengthAdjust="spacingAndGlyphs" stroke="#fff" stroke-width="0.25">2.2</text>
<rect x="886.1" y="1148.4" width="32.8" height="21" rx="5" fill="#d3a02a"/>
<text x="893.01" y="1163.6" font-size="13.2" fill="#fff" textLength="18.98" lengthAdjust="spacingAndGlyphs" stroke="#fff" stroke-width="0.25">2.3</text>
<rect x="921.8" y="1148.4" width="32.8" height="21" rx="5" fill="#d3a02a"/>
<text x="928.71" y="1163.6" font-size="13.2" fill="#fff" textLength="18.98" lengthAdjust="spacingAndGlyphs" stroke="#fff" stroke-width="0.25">2.4</text>
<rect x="957.5" y="1148.4" width="32.8" height="21" rx="5" fill="#d3a02a"/>
<text x="964.41" y="1163.6" font-size="13.2" fill="#fff" textLength="18.98" lengthAdjust="spacingAndGlyphs" stroke="#fff" stroke-width="0.25">2.5</text>
<rect x="993.2" y="1148.4" width="32.8" height="21" rx="5" fill="#d3a02a"/>
<text x="1000.08" y="1163.6" font-size="13.2" fill="#fff" textLength="19.05" lengthAdjust="spacingAndGlyphs" stroke="#fff" stroke-width="0.25">2.a</text>
<rect x="957.5" y="1173.6" width="32.8" height="21" rx="5" fill="#d3a02a"/>
<text x="964.02" y="1188.8" font-size="13.2" fill="#fff" textLength="19.76" lengthAdjust="spacingAndGlyphs" stroke="#fff" stroke-width="0.25">2.b</text>
<rect x="993.2" y="1173.6" width="32.8" height="21" rx="5" fill="#d3a02a"/>
<text x="1000.54" y="1188.8" font-size="13.2" fill="#fff" textLength="18.11" lengthAdjust="spacingAndGlyphs" stroke="#fff" stroke-width="0.25">2.c</text>
<line x1="72.5" y1="1212.15" x2="72.5" y2="1605.55" stroke="#686868" stroke-width="2.1" stroke-linecap="round" stroke-dasharray="1.4 6.29"/>
<line x1="395.1" y1="1212.15" x2="395.1" y2="1605.55" stroke="#686868" stroke-width="2.1" stroke-linecap="round" stroke-dasharray="1.4 6.29"/>
<line x1="719.0" y1="1212.15" x2="719.0" y2="1605.55" stroke="#686868" stroke-width="2.1" stroke-linecap="round" stroke-dasharray="1.4 6.29"/>
<line x1="1041.8" y1="1212.15" x2="1041.8" y2="1605.55" stroke="#686868" stroke-width="2.1" stroke-linecap="round" stroke-dasharray="1.4 6.29"/>
<text x="88.4" y="1229.8" font-size="13.9" fill="#333" textLength="93.27" lengthAdjust="spacingAndGlyphs">“Malnutrition”</text>
<text x="197.38" y="1229.8" font-size="13.9" fill="#333" textLength="54.6" lengthAdjust="spacingAndGlyphs">includes</text>
<text x="267.68" y="1229.8" font-size="13.9" fill="#333" textLength="21.88" lengthAdjust="spacingAndGlyphs">not</text>
<text x="305.27" y="1229.8" font-size="13.9" fill="#333" textLength="28.09" lengthAdjust="spacingAndGlyphs">only</text>
<text x="349.07" y="1229.8" font-size="13.9" fill="#333" textLength="29.83" lengthAdjust="spacingAndGlyphs">food</text>
<text x="88.4" y="1251.3" font-size="13.9" fill="#333" textLength="63.33" lengthAdjust="spacingAndGlyphs">shortages</text>
<text x="160.19" y="1251.3" font-size="13.9" fill="#333" textLength="22.27" lengthAdjust="spacingAndGlyphs">but</text>
<text x="190.91" y="1251.3" font-size="13.9" fill="#333" textLength="26.7" lengthAdjust="spacingAndGlyphs">also</text>
<text x="226.07" y="1251.3" font-size="13.9" fill="#333" textLength="53.07" lengthAdjust="spacingAndGlyphs">reduced</text>
<text x="287.6" y="1251.3" font-size="13.9" fill="#333" textLength="57.92" lengthAdjust="spacingAndGlyphs">digestive</text>
<text x="353.98" y="1251.3" font-size="13.9" fill="#333" textLength="24.92" lengthAdjust="spacingAndGlyphs">and</text>
<text x="88.4" y="1272.8" font-size="13.9" fill="#333" textLength="71.06" lengthAdjust="spacingAndGlyphs">absorption</text>
<text x="163.03" y="1272.8" font-size="13.9" fill="#333" textLength="54.38" lengthAdjust="spacingAndGlyphs">capacity</text>
<text x="220.98" y="1272.8" font-size="13.9" fill="#333" textLength="12.3" lengthAdjust="spacingAndGlyphs">in</text>
<text x="236.85" y="1272.8" font-size="13.9" fill="#333" textLength="21.38" lengthAdjust="spacingAndGlyphs">the</text>
<text x="261.81" y="1272.8" font-size="13.9" fill="#333" textLength="44.55" lengthAdjust="spacingAndGlyphs">elderly</text>
<text x="309.93" y="1272.8" font-size="13.9" fill="#333" textLength="24.92" lengthAdjust="spacingAndGlyphs">and</text>
<text x="338.42" y="1272.8" font-size="13.9" fill="#333" textLength="40.48" lengthAdjust="spacingAndGlyphs">eating</text>
<text x="88.4" y="1294.3" font-size="13.9" fill="#333" textLength="64.63" lengthAdjust="spacingAndGlyphs">disorders.</text>
<text x="412.4" y="1229.8" font-size="13.9" fill="#333" textLength="275.22" lengthAdjust="spacingAndGlyphs">“Poor nutrition” includes both deficiencies</text>
<text x="412.4" y="1251.3" font-size="13.9" fill="#333" textLength="247.84" lengthAdjust="spacingAndGlyphs">in specific nutrients and overnutrition.</text>
<text x="736.2" y="1230.2" font-size="13.9" fill="#333" textLength="289.48" lengthAdjust="spacingAndGlyphs">The value of agricultural and fisheries output</text>
<text x="736.2" y="1251.7" font-size="13.9" fill="#333" textLength="293" lengthAdjust="spacingAndGlyphs">in a region divided by its population, showing</text>
<text x="736.2" y="1273.2" font-size="13.9" fill="#333" textLength="255.8" lengthAdjust="spacingAndGlyphs">the food production amount per capita.</text>
<rect x="88.2" y="1346" width="106" height="64.7" rx="10" fill="#d3a02a"/>
<path d="M131.8,1410.2 L138.3,1421.9 L144.8,1410.2z" fill="#d3a02a"/>
<text x="98.95" y="1364.6" font-size="10.6" fill="#fff" font-weight="700" textLength="84.5" lengthAdjust="spacingAndGlyphs">National average</text>
<text x="111.2" y="1398.8" font-size="35.5" fill="#fff" font-weight="700" textLength="60" lengthAdjust="spacingAndGlyphs">2.47</text>
<text x="105" y="1457.8" font-size="29.8" fill="#1a1a1a" font-weight="700" textLength="53" lengthAdjust="spacingAndGlyphs">3.98</text>
<text x="123.09" y="1477.9" font-size="11" fill="#484848" textLength="24.42" lengthAdjust="spacingAndGlyphs">2024</text>
<g fill="#d3a02a"><circle cx="207" cy="1440.9" r="9.1"/><path d="M187.4,1478.8 V1464.36 a11.76,11.76 0 0 1 11.76,-11.76 H214.84 a11.76,11.76 0 0 1 11.76,11.76 V1478.8z"/></g><rect x="193.08" y="1471.75" width="1.57" height="7.55" fill="#fff"/><rect x="219.35" y="1471.75" width="1.57" height="7.55" fill="#fff"/>
<g fill="#d3a02a"><circle cx="251.7" cy="1440.9" r="9.1"/><path d="M232.1,1478.8 V1464.36 a11.76,11.76 0 0 1 11.76,-11.76 H259.54 a11.76,11.76 0 0 1 11.76,11.76 V1478.8z"/></g><rect x="237.78" y="1471.75" width="1.57" height="7.55" fill="#fff"/><rect x="264.05" y="1471.75" width="1.57" height="7.55" fill="#fff"/>
<g fill="#d3a02a"><circle cx="296.4" cy="1440.9" r="9.1"/><path d="M276.8,1478.8 V1464.36 a11.76,11.76 0 0 1 11.76,-11.76 H304.24 a11.76,11.76 0 0 1 11.76,11.76 V1478.8z"/></g><rect x="282.48" y="1471.75" width="1.57" height="7.55" fill="#fff"/><rect x="308.75" y="1471.75" width="1.57" height="7.55" fill="#fff"/>
<g fill="#d3a02a"><circle cx="341.1" cy="1440.9" r="9.1"/><path d="M321.5,1478.8 V1464.36 a11.76,11.76 0 0 1 11.76,-11.76 H348.94 a11.76,11.76 0 0 1 11.76,11.76 V1478.8z"/></g><rect x="327.18" y="1471.75" width="1.57" height="7.55" fill="#fff"/><rect x="353.45" y="1471.75" width="1.57" height="7.55" fill="#fff"/>
<text x="112.75" y="1521.7" font-size="19.3" fill="#1a1a1a" font-weight="700" textLength="36.5" lengthAdjust="spacingAndGlyphs">2.46</text>
<text x="123.09" y="1541.4" font-size="11" fill="#484848" textLength="24.42" lengthAdjust="spacingAndGlyphs">2020</text>
<g fill="#d3a02a"><circle cx="207" cy="1504.4" r="9.1"/><path d="M187.4,1542.3 V1527.86 a11.76,11.76 0 0 1 11.76,-11.76 H214.84 a11.76,11.76 0 0 1 11.76,11.76 V1542.3z"/></g><rect x="193.08" y="1535.25" width="1.57" height="7.55" fill="#fff"/><rect x="219.35" y="1535.25" width="1.57" height="7.55" fill="#fff"/>
<g fill="#d3a02a"><circle cx="251.7" cy="1504.4" r="9.1"/><path d="M232.1,1542.3 V1527.86 a11.76,11.76 0 0 1 11.76,-11.76 H259.54 a11.76,11.76 0 0 1 11.76,11.76 V1542.3z"/></g><rect x="237.78" y="1535.25" width="1.57" height="7.55" fill="#fff"/><rect x="264.05" y="1535.25" width="1.57" height="7.55" fill="#fff"/>
<clipPath id="c3"><rect x="275.8" y="1494.3" width="23.74" height="49"/></clipPath>
<g fill="#b5b5b6"><circle cx="296.4" cy="1504.4" r="9.1"/><path d="M276.8,1542.3 V1527.86 a11.76,11.76 0 0 1 11.76,-11.76 H304.24 a11.76,11.76 0 0 1 11.76,11.76 V1542.3z"/></g><g fill="#d3a02a" clip-path="url(#c3)"><circle cx="296.4" cy="1504.4" r="9.1"/><path d="M276.8,1542.3 V1527.86 a11.76,11.76 0 0 1 11.76,-11.76 H304.24 a11.76,11.76 0 0 1 11.76,11.76 V1542.3z"/></g><rect x="282.48" y="1535.25" width="1.57" height="7.55" fill="#fff"/><rect x="308.75" y="1535.25" width="1.57" height="7.55" fill="#fff"/>
<g fill="#b5b5b6"><circle cx="341.1" cy="1504.4" r="9.1"/><path d="M321.5,1542.3 V1527.86 a11.76,11.76 0 0 1 11.76,-11.76 H348.94 a11.76,11.76 0 0 1 11.76,11.76 V1542.3z"/></g><rect x="327.18" y="1535.25" width="1.57" height="7.55" fill="#fff"/><rect x="353.45" y="1535.25" width="1.57" height="7.55" fill="#fff"/>
<text x="112.75" y="1584.9" font-size="19.3" fill="#1a1a1a" font-weight="700" textLength="36.5" lengthAdjust="spacingAndGlyphs">2.30</text>
<text x="123.09" y="1604.5" font-size="11" fill="#484848" textLength="24.42" lengthAdjust="spacingAndGlyphs">2015</text>
<g fill="#d3a02a"><circle cx="207" cy="1568.1" r="9.1"/><path d="M187.4,1606 V1591.56 a11.76,11.76 0 0 1 11.76,-11.76 H214.84 a11.76,11.76 0 0 1 11.76,11.76 V1606z"/></g><rect x="193.08" y="1598.95" width="1.57" height="7.55" fill="#fff"/><rect x="219.35" y="1598.95" width="1.57" height="7.55" fill="#fff"/>
<g fill="#d3a02a"><circle cx="251.7" cy="1568.1" r="9.1"/><path d="M232.1,1606 V1591.56 a11.76,11.76 0 0 1 11.76,-11.76 H259.54 a11.76,11.76 0 0 1 11.76,11.76 V1606z"/></g><rect x="237.78" y="1598.95" width="1.57" height="7.55" fill="#fff"/><rect x="264.05" y="1598.95" width="1.57" height="7.55" fill="#fff"/>
<clipPath id="c4"><rect x="275.8" y="1558" width="12.76" height="49"/></clipPath>
<g fill="#b5b5b6"><circle cx="296.4" cy="1568.1" r="9.1"/><path d="M276.8,1606 V1591.56 a11.76,11.76 0 0 1 11.76,-11.76 H304.24 a11.76,11.76 0 0 1 11.76,11.76 V1606z"/></g><g fill="#d3a02a" clip-path="url(#c4)"><circle cx="296.4" cy="1568.1" r="9.1"/><path d="M276.8,1606 V1591.56 a11.76,11.76 0 0 1 11.76,-11.76 H304.24 a11.76,11.76 0 0 1 11.76,11.76 V1606z"/></g><rect x="282.48" y="1598.95" width="1.57" height="7.55" fill="#fff"/><rect x="308.75" y="1598.95" width="1.57" height="7.55" fill="#fff"/>
<g fill="#b5b5b6"><circle cx="341.1" cy="1568.1" r="9.1"/><path d="M321.5,1606 V1591.56 a11.76,11.76 0 0 1 11.76,-11.76 H348.94 a11.76,11.76 0 0 1 11.76,11.76 V1606z"/></g><rect x="327.18" y="1598.95" width="1.57" height="7.55" fill="#fff"/><rect x="353.45" y="1598.95" width="1.57" height="7.55" fill="#fff"/>
<text x="418" y="1331.4" font-size="14.2" fill="#484848" textLength="21.56" lengthAdjust="spacingAndGlyphs">(%)</text>
<line x1="453.2" y1="1364.7" x2="701" y2="1364.7" stroke="#c3c3c3" stroke-width="1.2"/>
<line x1="453.2" y1="1419.3" x2="701" y2="1419.3" stroke="#c3c3c3" stroke-width="1.2"/>
<line x1="453.2" y1="1473.8" x2="701" y2="1473.8" stroke="#c3c3c3" stroke-width="1.2"/>
<line x1="453.2" y1="1528.2" x2="701" y2="1528.2" stroke="#c3c3c3" stroke-width="1.2"/>
<line x1="453.2" y1="1582.6" x2="701" y2="1582.6" stroke="#c3c3c3" stroke-width="1.2"/>
<text x="417.5" y="1370.5" font-size="14.4" fill="#484848" textLength="18.74" lengthAdjust="spacingAndGlyphs">0.4</text>
<text x="417.5" y="1425.1" font-size="14.4" fill="#484848" textLength="18.74" lengthAdjust="spacingAndGlyphs">0.3</text>
<text x="417.5" y="1479.6" font-size="14.4" fill="#484848" textLength="18.74" lengthAdjust="spacingAndGlyphs">0.2</text>
<text x="417.5" y="1534" font-size="14.4" fill="#484848" textLength="18.74" lengthAdjust="spacingAndGlyphs">0.1</text>
<text x="417.5" y="1588.4" font-size="14.4" fill="#484848" textLength="18.74" lengthAdjust="spacingAndGlyphs">0.0</text>
<path d="M484.7,1473.8 L570.9,1364.7 L657,1364.7" fill="none" stroke="#d3a02a" stroke-width="3.6"/>
<circle cx="484.7" cy="1473.8" r="8" fill="#d3a02a" stroke="#fff" stroke-width="5.6" paint-order="stroke"/>
<circle cx="570.9" cy="1364.7" r="8" fill="#d3a02a" stroke="#fff" stroke-width="5.6" paint-order="stroke"/>
<circle cx="657" cy="1364.7" r="8" fill="#d3a02a" stroke="#fff" stroke-width="5.6" paint-order="stroke"/>
<text x="476.19" y="1603.8" font-size="14.2" fill="#484848" textLength="30.41" lengthAdjust="spacingAndGlyphs">2015</text>
<text x="562.39" y="1603.8" font-size="14.2" fill="#484848" textLength="30.41" lengthAdjust="spacingAndGlyphs">2020</text>
<text x="648.49" y="1603.8" font-size="14.2" fill="#484848" textLength="30.41" lengthAdjust="spacingAndGlyphs">2024</text>
<text x="552.75" y="1349" font-size="19.3" fill="#1a1a1a" font-weight="700" textLength="36.5" lengthAdjust="spacingAndGlyphs">0.40</text>
<text x="628.2" y="1348.4" font-size="28.7" fill="#1a1a1a" font-weight="700" textLength="54" lengthAdjust="spacingAndGlyphs">0.40</text>
<text x="466.45" y="1501.6" font-size="19.3" fill="#1a1a1a" font-weight="700" textLength="36.5" lengthAdjust="spacingAndGlyphs">0.20</text>
<rect x="595" y="1402.5" width="106" height="64" rx="10" fill="#d3a02a"/>
<path d="M650.5,1403 L657,1391.3 L663.5,1403z" fill="#d3a02a"/>
<text x="605.75" y="1420.7" font-size="10.6" fill="#fff" font-weight="700" textLength="84.5" lengthAdjust="spacingAndGlyphs">National average</text>
<text x="618" y="1455.5" font-size="35.5" fill="#fff" font-weight="700" textLength="60" lengthAdjust="spacingAndGlyphs">0.28</text>
<text x="732.2" y="1336.2" font-size="14.4" fill="#484848" textLength="127.2" lengthAdjust="spacingAndGlyphs">(10,000yen/person)</text>
<rect x="920.6" y="1313" width="105.4" height="64.6" rx="10" fill="#d3a02a"/>
<path d="M976.6,1377.1 L983.1,1388.8 L989.6,1377.1z" fill="#d3a02a"/>
<text x="931.05" y="1332.4" font-size="10.6" fill="#fff" font-weight="700" textLength="84.5" lengthAdjust="spacingAndGlyphs">National average</text>
<text x="944.3" y="1368.2" font-size="35.5" fill="#fff" font-weight="700" textLength="58" lengthAdjust="spacingAndGlyphs">8.37</text>
<path d="M778.6,1382.4 L880.6,1401.4 L983.1,1401.4" fill="none" stroke="#d3a02a" stroke-width="3.2"/>
<circle cx="778.6" cy="1382.4" r="5.5" fill="#d3a02a" stroke="#fff" stroke-width="3.4" paint-order="stroke"/>
<circle cx="880.6" cy="1401.4" r="5.5" fill="#d3a02a" stroke="#fff" stroke-width="3.4" paint-order="stroke"/>
<circle cx="983.1" cy="1401.4" r="5.5" fill="#d3a02a" stroke="#fff" stroke-width="3.4" paint-order="stroke"/>
<path d="M742.2,1436.6 A16.75,5.0 0 0 1 775.7,1436.6 V1542.5 A16.75,5.0 0 0 1 742.2,1542.5z" fill="#d3a02a"/>
<path d="M743.4,1538.08 A15.55,4.4 0 0 0 774.5,1538.08 M743.4,1532.96 A15.55,4.4 0 0 0 774.5,1532.96 M743.4,1527.84 A15.55,4.4 0 0 0 774.5,1527.84 M743.4,1522.72 A15.55,4.4 0 0 0 774.5,1522.72 M743.4,1512.48 A15.55,4.4 0 0 0 774.5,1512.48 M743.4,1507.36 A15.55,4.4 0 0 0 774.5,1507.36 M743.4,1502.24 A15.55,4.4 0 0 0 774.5,1502.24 M743.4,1497.12 A15.55,4.4 0 0 0 774.5,1497.12 M743.4,1486.88 A15.55,4.4 0 0 0 774.5,1486.88 M743.4,1481.76 A15.55,4.4 0 0 0 774.5,1481.76 M743.4,1476.64 A15.55,4.4 0 0 0 774.5,1476.64 M743.4,1471.52 A15.55,4.4 0 0 0 774.5,1471.52 M743.4,1461.28 A15.55,4.4 0 0 0 774.5,1461.28 M743.4,1456.16 A15.55,4.4 0 0 0 774.5,1456.16 M743.4,1451.04 A15.55,4.4 0 0 0 774.5,1451.04 M743.4,1445.92 A15.55,4.4 0 0 0 774.5,1445.92" fill="none" stroke="#f4c862" stroke-width="1.1"/>
<path d="M743.4,1517.6 A15.55,4.4 0 0 0 774.5,1517.6 M743.4,1492 A15.55,4.4 0 0 0 774.5,1492 M743.4,1466.4 A15.55,4.4 0 0 0 774.5,1466.4 M743.4,1440.8 A15.55,4.4 0 0 0 774.5,1440.8" fill="none" stroke="#fff8e6" stroke-width="1.5"/>
<text transform="translate(759.75,1440) scale(1,0.5) rotate(-20)" font-size="17" stroke="#fff8e6" stroke-width="0.5" font-weight="700" fill="#fff8e6" text-anchor="middle">¥</text>
<path d="M781.4,1411 A16.75,5.0 0 0 1 814.9,1411 V1542.5 A16.75,5.0 0 0 1 781.4,1542.5z" fill="#d3a02a"/>
<path d="M782.6,1538.08 A15.55,4.4 0 0 0 813.7,1538.08 M782.6,1532.96 A15.55,4.4 0 0 0 813.7,1532.96 M782.6,1527.84 A15.55,4.4 0 0 0 813.7,1527.84 M782.6,1522.72 A15.55,4.4 0 0 0 813.7,1522.72 M782.6,1512.48 A15.55,4.4 0 0 0 813.7,1512.48 M782.6,1507.36 A15.55,4.4 0 0 0 813.7,1507.36 M782.6,1502.24 A15.55,4.4 0 0 0 813.7,1502.24 M782.6,1497.12 A15.55,4.4 0 0 0 813.7,1497.12 M782.6,1486.88 A15.55,4.4 0 0 0 813.7,1486.88 M782.6,1481.76 A15.55,4.4 0 0 0 813.7,1481.76 M782.6,1476.64 A15.55,4.4 0 0 0 813.7,1476.64 M782.6,1471.52 A15.55,4.4 0 0 0 813.7,1471.52 M782.6,1461.28 A15.55,4.4 0 0 0 813.7,1461.28 M782.6,1456.16 A15.55,4.4 0 0 0 813.7,1456.16 M782.6,1451.04 A15.55,4.4 0 0 0 813.7,1451.04 M782.6,1445.92 A15.55,4.4 0 0 0 813.7,1445.92 M782.6,1435.68 A15.55,4.4 0 0 0 813.7,1435.68 M782.6,1430.56 A15.55,4.4 0 0 0 813.7,1430.56 M782.6,1425.44 A15.55,4.4 0 0 0 813.7,1425.44 M782.6,1420.32 A15.55,4.4 0 0 0 813.7,1420.32" fill="none" stroke="#f4c862" stroke-width="1.1"/>
<path d="M782.6,1517.6 A15.55,4.4 0 0 0 813.7,1517.6 M782.6,1492 A15.55,4.4 0 0 0 813.7,1492 M782.6,1466.4 A15.55,4.4 0 0 0 813.7,1466.4 M782.6,1440.8 A15.55,4.4 0 0 0 813.7,1440.8 M782.6,1415.2 A15.55,4.4 0 0 0 813.7,1415.2" fill="none" stroke="#fff8e6" stroke-width="1.5"/>
<text transform="translate(798.95,1414.4) scale(1,0.5) rotate(-20)" font-size="17" stroke="#fff8e6" stroke-width="0.5" font-weight="700" fill="#fff8e6" text-anchor="middle">¥</text>
<path d="M844.3,1436.6 A16.75,5.0 0 0 1 877.8,1436.6 V1542.5 A16.75,5.0 0 0 1 844.3,1542.5z" fill="#d3a02a"/>
<path d="M845.5,1538.08 A15.55,4.4 0 0 0 876.6,1538.08 M845.5,1532.96 A15.55,4.4 0 0 0 876.6,1532.96 M845.5,1527.84 A15.55,4.4 0 0 0 876.6,1527.84 M845.5,1522.72 A15.55,4.4 0 0 0 876.6,1522.72 M845.5,1512.48 A15.55,4.4 0 0 0 876.6,1512.48 M845.5,1507.36 A15.55,4.4 0 0 0 876.6,1507.36 M845.5,1502.24 A15.55,4.4 0 0 0 876.6,1502.24 M845.5,1497.12 A15.55,4.4 0 0 0 876.6,1497.12 M845.5,1486.88 A15.55,4.4 0 0 0 876.6,1486.88 M845.5,1481.76 A15.55,4.4 0 0 0 876.6,1481.76 M845.5,1476.64 A15.55,4.4 0 0 0 876.6,1476.64 M845.5,1471.52 A15.55,4.4 0 0 0 876.6,1471.52 M845.5,1461.28 A15.55,4.4 0 0 0 876.6,1461.28 M845.5,1456.16 A15.55,4.4 0 0 0 876.6,1456.16 M845.5,1451.04 A15.55,4.4 0 0 0 876.6,1451.04 M845.5,1445.92 A15.55,4.4 0 0 0 876.6,1445.92" fill="none" stroke="#f4c862" stroke-width="1.1"/>
<path d="M845.5,1517.6 A15.55,4.4 0 0 0 876.6,1517.6 M845.5,1492 A15.55,4.4 0 0 0 876.6,1492 M845.5,1466.4 A15.55,4.4 0 0 0 876.6,1466.4 M845.5,1440.8 A15.55,4.4 0 0 0 876.6,1440.8" fill="none" stroke="#fff8e6" stroke-width="1.5"/>
<text transform="translate(861.85,1440) scale(1,0.5) rotate(-20)" font-size="17" stroke="#fff8e6" stroke-width="0.5" font-weight="700" fill="#fff8e6" text-anchor="middle">¥</text>
<path d="M883.5,1432.4 A16.75,5.0 0 0 1 917,1432.4 V1542.5 A16.75,5.0 0 0 1 883.5,1542.5z" fill="#d3a02a"/>
<path d="M884.7,1538.08 A15.55,4.4 0 0 0 915.8,1538.08 M884.7,1532.96 A15.55,4.4 0 0 0 915.8,1532.96 M884.7,1527.84 A15.55,4.4 0 0 0 915.8,1527.84 M884.7,1522.72 A15.55,4.4 0 0 0 915.8,1522.72 M884.7,1512.48 A15.55,4.4 0 0 0 915.8,1512.48 M884.7,1507.36 A15.55,4.4 0 0 0 915.8,1507.36 M884.7,1502.24 A15.55,4.4 0 0 0 915.8,1502.24 M884.7,1497.12 A15.55,4.4 0 0 0 915.8,1497.12 M884.7,1486.88 A15.55,4.4 0 0 0 915.8,1486.88 M884.7,1481.76 A15.55,4.4 0 0 0 915.8,1481.76 M884.7,1476.64 A15.55,4.4 0 0 0 915.8,1476.64 M884.7,1471.52 A15.55,4.4 0 0 0 915.8,1471.52 M884.7,1461.28 A15.55,4.4 0 0 0 915.8,1461.28 M884.7,1456.16 A15.55,4.4 0 0 0 915.8,1456.16 M884.7,1451.04 A15.55,4.4 0 0 0 915.8,1451.04 M884.7,1445.92 A15.55,4.4 0 0 0 915.8,1445.92 M884.7,1435.68 A15.55,4.4 0 0 0 915.8,1435.68" fill="none" stroke="#f4c862" stroke-width="1.1"/>
<path d="M884.7,1517.6 A15.55,4.4 0 0 0 915.8,1517.6 M884.7,1492 A15.55,4.4 0 0 0 915.8,1492 M884.7,1466.4 A15.55,4.4 0 0 0 915.8,1466.4 M884.7,1440.8 A15.55,4.4 0 0 0 915.8,1440.8" fill="none" stroke="#fff8e6" stroke-width="1.5"/>
<text transform="translate(901.05,1435.8) scale(1,0.5) rotate(-20)" font-size="17" stroke="#fff8e6" stroke-width="0.5" font-weight="700" fill="#fff8e6" text-anchor="middle">¥</text>
<path d="M946,1436.6 A16.75,5.0 0 0 1 979.5,1436.6 V1542.5 A16.75,5.0 0 0 1 946,1542.5z" fill="#d3a02a"/>
<path d="M947.2,1538.08 A15.55,4.4 0 0 0 978.3,1538.08 M947.2,1532.96 A15.55,4.4 0 0 0 978.3,1532.96 M947.2,1527.84 A15.55,4.4 0 0 0 978.3,1527.84 M947.2,1522.72 A15.55,4.4 0 0 0 978.3,1522.72 M947.2,1512.48 A15.55,4.4 0 0 0 978.3,1512.48 M947.2,1507.36 A15.55,4.4 0 0 0 978.3,1507.36 M947.2,1502.24 A15.55,4.4 0 0 0 978.3,1502.24 M947.2,1497.12 A15.55,4.4 0 0 0 978.3,1497.12 M947.2,1486.88 A15.55,4.4 0 0 0 978.3,1486.88 M947.2,1481.76 A15.55,4.4 0 0 0 978.3,1481.76 M947.2,1476.64 A15.55,4.4 0 0 0 978.3,1476.64 M947.2,1471.52 A15.55,4.4 0 0 0 978.3,1471.52 M947.2,1461.28 A15.55,4.4 0 0 0 978.3,1461.28 M947.2,1456.16 A15.55,4.4 0 0 0 978.3,1456.16 M947.2,1451.04 A15.55,4.4 0 0 0 978.3,1451.04 M947.2,1445.92 A15.55,4.4 0 0 0 978.3,1445.92" fill="none" stroke="#f4c862" stroke-width="1.1"/>
<path d="M947.2,1517.6 A15.55,4.4 0 0 0 978.3,1517.6 M947.2,1492 A15.55,4.4 0 0 0 978.3,1492 M947.2,1466.4 A15.55,4.4 0 0 0 978.3,1466.4 M947.2,1440.8 A15.55,4.4 0 0 0 978.3,1440.8" fill="none" stroke="#fff8e6" stroke-width="1.5"/>
<text transform="translate(963.55,1440) scale(1,0.5) rotate(-20)" font-size="17" stroke="#fff8e6" stroke-width="0.5" font-weight="700" fill="#fff8e6" text-anchor="middle">¥</text>
<path d="M985.6,1432.4 A16.75,5.0 0 0 1 1019.1,1432.4 V1542.5 A16.75,5.0 0 0 1 985.6,1542.5z" fill="#d3a02a"/>
<path d="M986.8,1538.08 A15.55,4.4 0 0 0 1017.9,1538.08 M986.8,1532.96 A15.55,4.4 0 0 0 1017.9,1532.96 M986.8,1527.84 A15.55,4.4 0 0 0 1017.9,1527.84 M986.8,1522.72 A15.55,4.4 0 0 0 1017.9,1522.72 M986.8,1512.48 A15.55,4.4 0 0 0 1017.9,1512.48 M986.8,1507.36 A15.55,4.4 0 0 0 1017.9,1507.36 M986.8,1502.24 A15.55,4.4 0 0 0 1017.9,1502.24 M986.8,1497.12 A15.55,4.4 0 0 0 1017.9,1497.12 M986.8,1486.88 A15.55,4.4 0 0 0 1017.9,1486.88 M986.8,1481.76 A15.55,4.4 0 0 0 1017.9,1481.76 M986.8,1476.64 A15.55,4.4 0 0 0 1017.9,1476.64 M986.8,1471.52 A15.55,4.4 0 0 0 1017.9,1471.52 M986.8,1461.28 A15.55,4.4 0 0 0 1017.9,1461.28 M986.8,1456.16 A15.55,4.4 0 0 0 1017.9,1456.16 M986.8,1451.04 A15.55,4.4 0 0 0 1017.9,1451.04 M986.8,1445.92 A15.55,4.4 0 0 0 1017.9,1445.92 M986.8,1435.68 A15.55,4.4 0 0 0 1017.9,1435.68" fill="none" stroke="#f4c862" stroke-width="1.1"/>
<path d="M986.8,1517.6 A15.55,4.4 0 0 0 1017.9,1517.6 M986.8,1492 A15.55,4.4 0 0 0 1017.9,1492 M986.8,1466.4 A15.55,4.4 0 0 0 1017.9,1466.4 M986.8,1440.8 A15.55,4.4 0 0 0 1017.9,1440.8" fill="none" stroke="#fff8e6" stroke-width="1.5"/>
<text transform="translate(1003.15,1435.8) scale(1,0.5) rotate(-20)" font-size="17" stroke="#fff8e6" stroke-width="0.5" font-weight="700" fill="#fff8e6" text-anchor="middle">¥</text>
<text x="758.35" y="1576.2" font-size="21.5" fill="#1a1a1a" font-weight="700" textLength="40.5" lengthAdjust="spacingAndGlyphs">0.45</text>
<text x="861.6" y="1576.2" font-size="21.5" fill="#1a1a1a" font-weight="700" textLength="38" lengthAdjust="spacingAndGlyphs">0.41</text>
<text x="955.8" y="1575.5" font-size="29.8" fill="#1a1a1a" font-weight="700" textLength="52" lengthAdjust="spacingAndGlyphs">0.41</text>
<text x="763.39" y="1604.3" font-size="14.2" fill="#484848" textLength="30.41" lengthAdjust="spacingAndGlyphs">2015</text>
<text x="865.39" y="1604.3" font-size="14.2" fill="#484848" textLength="30.41" lengthAdjust="spacingAndGlyphs">2020</text>
<text x="967.79" y="1604.3" font-size="14.2" fill="#484848" textLength="30.41" lengthAdjust="spacingAndGlyphs">2024</text>
<path d="M1190,376 H1109 a6,6 0 0 0 -6,6 V516.2 a6,6 0 0 0 6,6 H1190z" fill="#1f4e8f"/>
<text transform="translate(1125.8,395.8) rotate(90)" x="0" y="0" font-size="14.5" fill="#fff" font-weight="400" stroke="#fff" stroke-width="0.3" textLength="109.4" lengthAdjust="spacingAndGlyphs">Search by Goals</text>
<text transform="translate(1125.8,542.8) rotate(90)" x="0" y="0" font-size="14.5" fill="#666" font-weight="400" stroke="#666" stroke-width="0.3" textLength="140.5" lengthAdjust="spacingAndGlyphs">Goal 1 NO POVERTY</text>
<text transform="translate(1125.8,719.3) rotate(90)" x="0" y="0" font-size="14.5" fill="#666" font-weight="400" stroke="#666" stroke-width="0.3" textLength="150.3" lengthAdjust="spacingAndGlyphs">Goal 2 ZERO HUNGER</text>
<text x="1127.5" y="1636.5" font-size="14" fill="#444" text-anchor="middle" stroke="#444" stroke-width="0.4">4</text>
</svg>
</body></html>
